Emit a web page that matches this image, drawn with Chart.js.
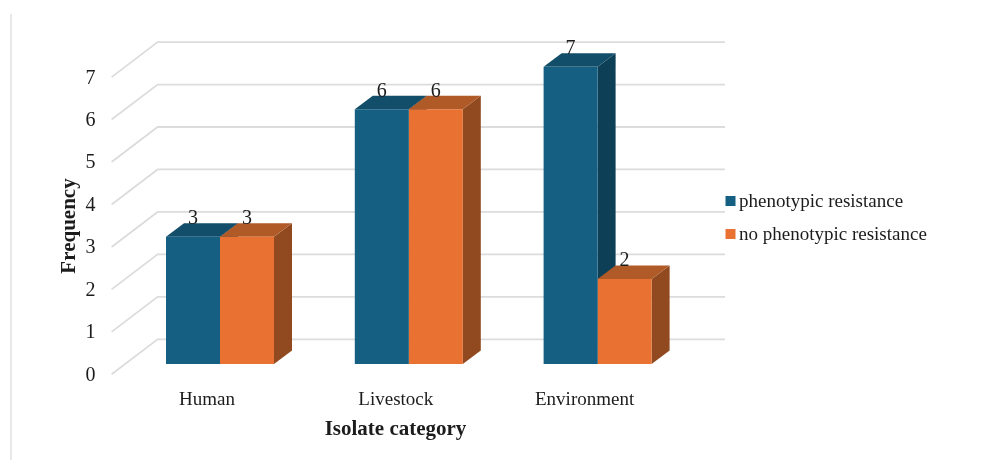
<!DOCTYPE html>
<html>
<head>
<meta charset="utf-8">
<title>Isolate category</title>
<script src="https://cdn.jsdelivr.net/npm/chart.js@4"></script>
<style>
  html, body { margin: 0; background: #fff; }
  canvas { display: block; }
</style>
</head>
<body>
<canvas id="grafiek" width="998" height="460"></canvas>
<script>
const categories = ['Human', 'Livestock', 'Environment'];
const phenotypic = [3, 6, 7];
const noPhenotypic = [3, 6, 2];
const seriesNames = ['phenotypic resistance', 'no phenotypic resistance'];
const yTicks = [0, 1, 2, 3, 4, 5, 6, 7];
const xTitle = 'Isolate category';
const yTitle = 'Frequency';

const SERIF = '"Liberation Serif", "Times New Roman", serif';
const TEKST = '#1c1c1c';
const RASTER = '#dcdcdc';

/* voorkant, bovenkant en zijkant per reeks */
const KLEUR = [
  { front: '#156082', top: '#124e69', side: '#0d4057' },
  { front: '#e97132', top: '#b05a28', side: '#91491f' }
];

/* diepte van de balken, en de bodem t.o.v. het balkvlak */
const DX = 18, DY = 13.5;
const VOOR = { dx: -14, dy: 10.3 };
const ACHTER = { dx: 32, dy: -24.7 };
const VLOER_R = 33; // achterwand loopt voorbij de laatste categorie

function vlak(ctx, kleur, p) {
  ctx.fillStyle = kleur;
  ctx.beginPath();
  ctx.moveTo(p[0][0], p[0][1]);
  for (let i = 1; i < p.length; i++) ctx.lineTo(p[i][0], p[i][1]);
  ctx.closePath();
  ctx.fill();
}

const balk3d = {
  id: 'balk3d',
  beforeDraw(chart) {
    const { ctx, chartArea: ca, scales } = chart;
    /* rand links */
    ctx.save();
    ctx.fillStyle = '#e8e8e8';
    ctx.fillRect(10, 14, 2, 446);

    /* wandlijnen per tick */
    ctx.strokeStyle = RASTER;
    ctx.lineWidth = 1.8;
    for (const t of yTicks) {
      const y = scales.y.getPixelForValue(t);
      ctx.beginPath();
      ctx.moveTo(ca.left + VOOR.dx, y + VOOR.dy);
      ctx.lineTo(ca.left + ACHTER.dx, y + ACHTER.dy);
      ctx.lineTo(ca.right + VLOER_R, y + ACHTER.dy);
      ctx.stroke();
    }
    ctx.restore();
  },
  beforeDatasetsDraw(chart) {
    const { ctx } = chart;
    ctx.save();
    chart.data.datasets.forEach((ds, d) => {
      chart.getDatasetMeta(d).data.forEach(bar => {
        const l = bar.x - bar.width / 2, r = bar.x + bar.width / 2;
        vlak(ctx, KLEUR[d].side, [[r, bar.y], [r + DX, bar.y - DY], [r + DX, bar.base - DY], [r, bar.base]]);
        vlak(ctx, KLEUR[d].top, [[l, bar.y], [l + DX, bar.y - DY], [r + DX, bar.y - DY], [r, bar.y]]);
      });
    });
    ctx.restore();
  },
  afterDraw(chart) {
    const { ctx } = chart;
    ctx.save();
    ctx.fillStyle = TEKST;
    ctx.textBaseline = 'middle';

    /* waarden boven de balken */
    ctx.textAlign = 'center';
    ctx.font = '20px ' + SERIF;
    chart.data.datasets.forEach((ds, d) => {
      chart.getDatasetMeta(d).data.forEach((bar, i) => {
        ctx.fillText(ds.data[i], bar.x, bar.y - 18);
      });
    });

    /* legenda */
    ctx.textAlign = 'left';
    ctx.font = '19px ' + SERIF;
    seriesNames.forEach((naam, i) => {
      const y = 201 + i * 33;
      ctx.fillStyle = KLEUR[i].front;
      ctx.fillRect(725.5, y - 5, 10, 10);
      ctx.fillStyle = TEKST;
      ctx.fillText(naam, 739, y + 1);
    });

    /* astitels */
    ctx.font = 'bold 21px ' + SERIF;
    ctx.textAlign = 'center';
    ctx.fillText(xTitle, 395.5, 429.5);
    ctx.translate(70, 226);
    ctx.rotate(-Math.PI / 2);
    ctx.fillText(yTitle, 0, 0);
    ctx.restore();
  }
};

new Chart(document.getElementById('grafiek'), {
  type: 'bar',
  data: {
    labels: categories,
    datasets: [
      { label: seriesNames[0], data: phenotypic, backgroundColor: KLEUR[0].front },
      { label: seriesNames[1], data: noPhenotypic, backgroundColor: KLEUR[1].front }
    ]
  },
  options: {
    responsive: false,
    animation: false,
    layout: { padding: { left: 0, top: 66.8, right: 306, bottom: 0 } },
    datasets: { bar: { categoryPercentage: 0.572, barPercentage: 1 } },
    plugins: { legend: { display: false }, tooltip: { enabled: false } },
    scales: {
      x: {
        grid: { display: false },
        border: { display: false },
        ticks: {
          color: TEKST, font: { family: SERIF, size: 19 },
          padding: 17, labelOffset: -13, maxRotation: 0
        },
        afterFit(s) { s.height = 96; }
      },
      y: {
        min: 0, max: 7,
        grid: { display: false },
        border: { display: false },
        afterBuildTicks(s) { s.ticks = yTicks.map(v => ({ value: v })); },
        ticks: {
          color: TEKST, font: { family: SERIF, size: 20 },
          padding: 22, labelOffset: 11.5
        },
        afterFit(s) { s.width = 125.6; }
      }
    }
  },
  plugins: [balk3d]
});
</script>
</body>
</html>
